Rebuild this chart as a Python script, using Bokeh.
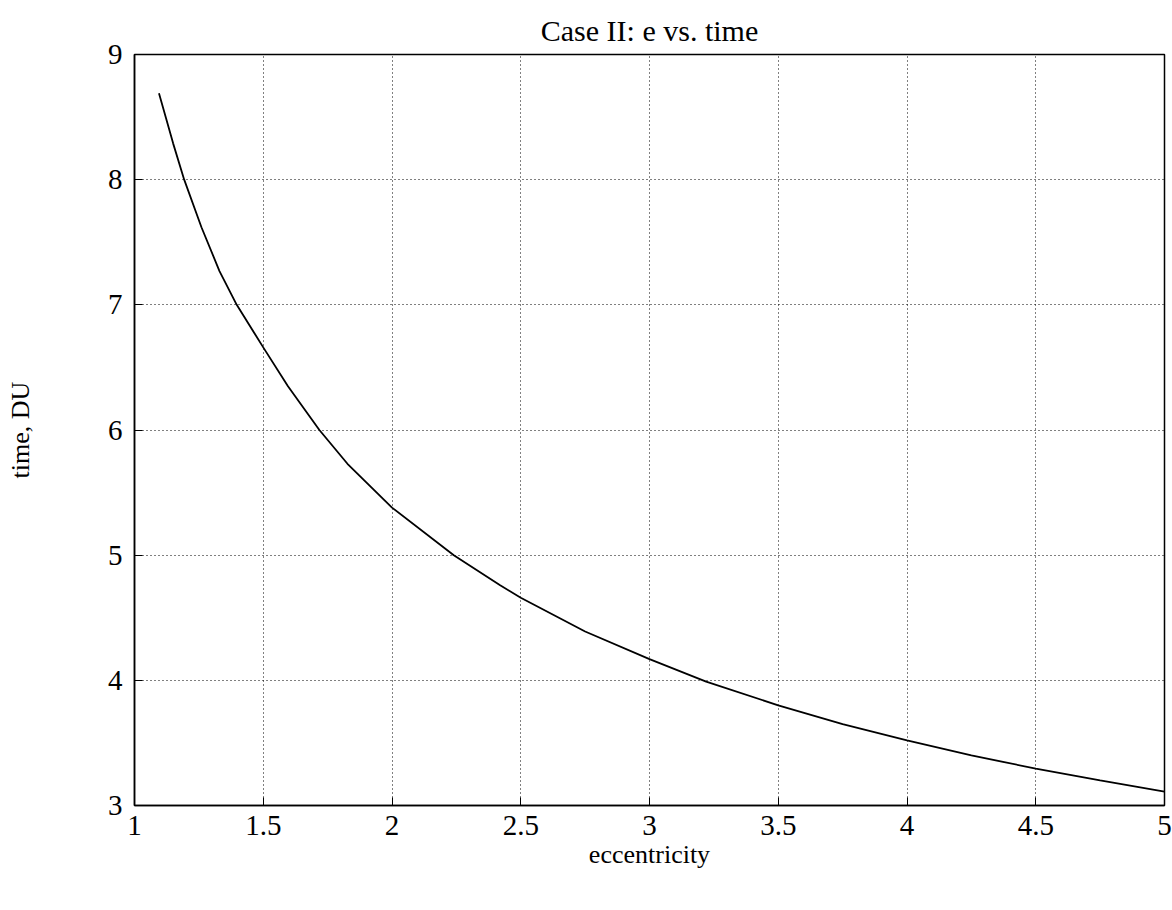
from bokeh.plotting import figure
from bokeh.models import Range1d, FixedTicker, Title
from bokeh.embed import file_html
from bokeh.resources import INLINE

# data
eccentricity = [1.095, 1.15, 1.193, 1.26, 1.33, 1.397, 1.5, 1.596, 1.718, 1.827, 2.0,
                2.24, 2.42, 2.5, 2.75, 3.0, 3.22, 3.5, 3.75, 4.0, 4.25, 4.5, 4.75, 5.0]
time_du = [8.69, 8.29, 8.00, 7.62, 7.27, 7.00, 6.66, 6.35, 6.00, 5.73, 5.38,
           5.00, 4.76, 4.66, 4.39, 4.17, 3.99, 3.80, 3.65, 3.52, 3.40, 3.295, 3.20, 3.11]
x_ticks = [1, 1.5, 2, 2.5, 3, 3.5, 4, 4.5, 5]
y_ticks = [3, 4, 5, 6, 7, 8, 9]

FONT = "Liberation Serif"

p = figure(width=1172, height=910, output_backend="svg", toolbar_location=None,
           x_range=Range1d(1, 5), y_range=Range1d(3, 9),
           min_border_left=134, min_border_right=8, min_border_top=54, min_border_bottom=105)
p.title = Title(text="Case II: e vs. time", align="center", text_font=FONT,
                text_font_size="30px", text_font_style="normal", text_color="black",
                offset=0, standoff=16)
p.background_fill_color = "white"
p.border_fill_color = "white"
p.outline_line_color = "black"
p.outline_line_width = 1.5

p.line(eccentricity, time_du, line_color="black", line_width=1.8)

for ax, ticks in ((p.xaxis[0], x_ticks), (p.yaxis[0], y_ticks)):
    ax.ticker = FixedTicker(ticks=ticks)
    ax.major_label_text_font = FONT
    ax.major_label_text_font_size = "29px"
    ax.major_label_text_color = "black"
    ax.axis_label_text_font = FONT
    ax.axis_label_text_font_size = "26px"
    ax.axis_label_text_font_style = "normal"
    ax.axis_label_text_color = "black"
    ax.axis_line_color = "black"
    ax.axis_line_width = 1.5
    ax.major_tick_in = 8
    ax.major_tick_out = 0
    ax.minor_tick_line_color = None
    ax.major_tick_line_color = "black"

p.xaxis[0].axis_label = "eccentricity"
p.yaxis[0].axis_label = "time, DU"
p.xaxis[0].major_label_overrides = {1: "1", 2: "2", 3: "3", 4: "4", 5: "5"}
p.yaxis[0].major_label_orientation = "horizontal"
p.xaxis[0].major_label_standoff = 10
p.xaxis[0].axis_label_standoff = 2
p.yaxis[0].major_label_standoff = 12
p.yaxis[0].axis_label_standoff = 70

for g, ticks in ((p.xgrid[0], x_ticks), (p.ygrid[0], y_ticks)):
    g.ticker = FixedTicker(ticks=ticks)
    g.grid_line_color = "black"
    g.grid_line_dash = "1 3"
    g.grid_line_width = 1

open("out.html", "w").write(file_html(p, INLINE))
